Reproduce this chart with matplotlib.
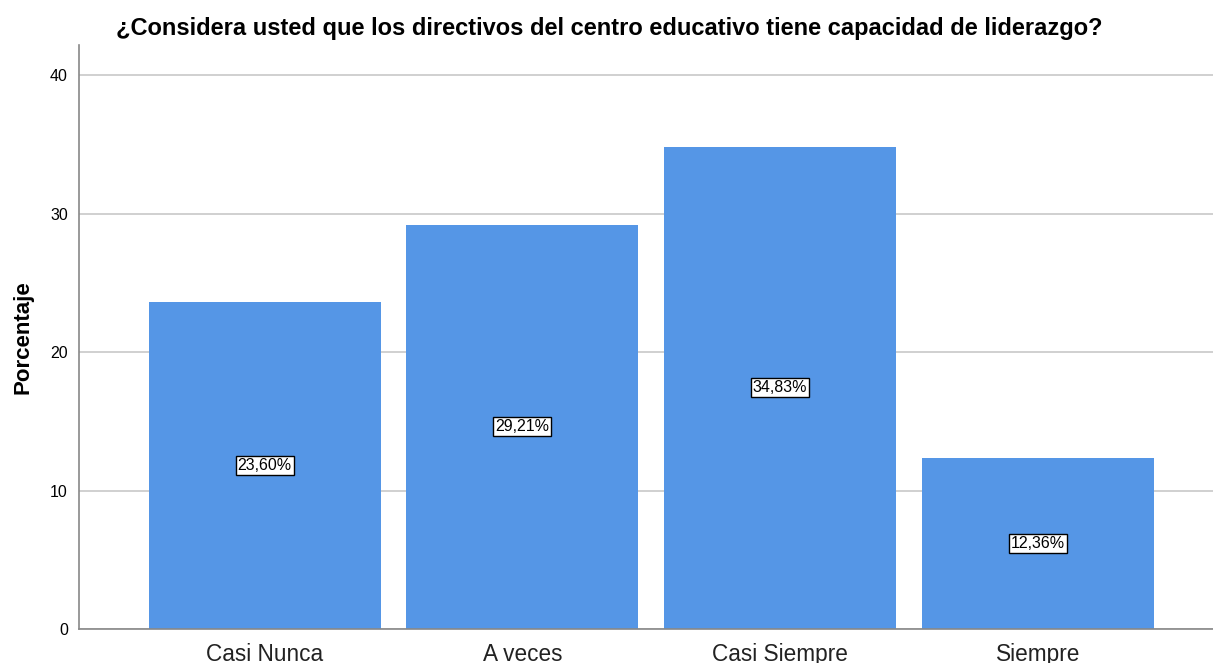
import matplotlib
matplotlib.use("Agg")
import matplotlib.pyplot as plt

categorias = ["Casi Nunca", "A veces", "Casi Siempre", "Siempre"]
porcentajes = [23.60, 29.21, 34.83, 12.36]
etiquetas = ["23,60%", "29,21%", "34,83%", "12,36%"]

plt.rcParams['font.family'] = ['Liberation Sans', 'DejaVu Sans']

fig = plt.figure(figsize=(12.13, 6.63), dpi=100)
ax = fig.add_axes([0.0651, 0.0513, 0.9349, 0.8807])

x = range(len(categorias))
ax.bar(x, porcentajes, width=0.9, color="#5596e6", zorder=2)
ax.set_xlim(-0.72, 3.68)
ax.set_ylim(0, 42.17)
ax.set_yticks([0, 10, 20, 30, 40])
ax.yaxis.grid(True, color="#c8c8c8", linewidth=1.2, zorder=0)
ax.set_axisbelow(True)

for i, (v, t) in enumerate(zip(porcentajes, etiquetas)):
    ax.text(i, v / 2, t, ha="center", va="center", fontsize=11.5, color="black",
            bbox=dict(boxstyle="square,pad=0.12", facecolor="white", edgecolor="black", linewidth=1),
            zorder=3)

ax.set_xticks(list(x))
ax.set_xticklabels(categorias, fontsize=16.3, color="#222222")
ax.tick_params(axis="x", length=0, pad=10)
ax.tick_params(axis="y", length=0, labelsize=11.5, pad=8)

for s in ["top", "right"]:
    ax.spines[s].set_visible(False)
ax.spines["left"].set_color("#888888")
ax.spines["bottom"].set_color("#888888")
ax.spines["left"].set_linewidth(1.2)
ax.spines["bottom"].set_linewidth(1.2)

ax.set_ylabel("Porcentaje", fontsize=16, fontweight="bold", labelpad=12)
fig.text(0.502, 0.957, "¿Considera usted que los directivos del centro educativo tiene capacidad de liderazgo?",
         ha="center", va="center", fontsize=17, fontweight="bold")

fig.savefig("out.png", dpi=100)
